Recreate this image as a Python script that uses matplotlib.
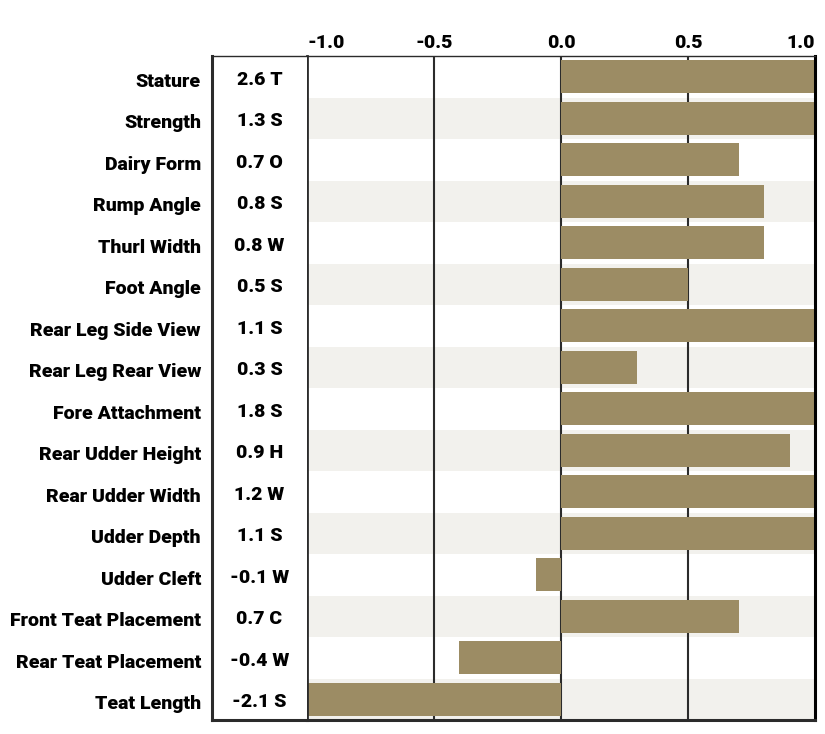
import matplotlib.pyplot as plt
import matplotlib.transforms as mtransforms

traits = ['Stature', 'Strength', 'Dairy Form', 'Rump Angle', 'Thurl Width',
          'Foot Angle', 'Rear Leg Side View', 'Rear Leg Rear View',
          'Fore Attachment', 'Rear Udder Height', 'Rear Udder Width',
          'Udder Depth', 'Udder Cleft', 'Front Teat Placement',
          'Rear Teat Placement', 'Teat Length']
values = [2.6, 1.3, 0.7, 0.8, 0.8, 0.5, 1.1, 0.3, 1.8, 0.9, 1.2, 1.1,
          -0.1, 0.7, -0.4, -2.1]
codes = ['T', 'S', 'O', 'S', 'W', 'S', 'S', 'S', 'S', 'H', 'W', 'S',
         'W', 'C', 'W', 'S']
xticks = [-1.0, -0.5, 0.0, 0.5, 1.0]

bar_color = '#9c8c64'
stripe_color = '#f2f1ed'
line_color = '#2b2b2b'

plt.rcParams['font.family'] = ['Roboto', 'DejaVu Sans']

fs = 14
fw = 'heavy'

fig = plt.figure(figsize=(8.25, 7.34), dpi=100)
W, H = 825, 734
top, bottom = 56, 720
ax = fig.add_axes([307 / W, (H - bottom) / H, 508 / W, (bottom - top) / H])
axv = fig.add_axes([212 / W, (H - bottom) / H, 95 / W, (bottom - top) / H])

n = len(traits)
ypos = list(range(n))

# alternating stripes
for i in ypos:
    if i % 2 == 1:
        ax.axhspan(i - 0.5, i + 0.5, color=stripe_color, zorder=0, lw=0)

for x in [-0.5, 0.0, 0.5]:
    ax.axvline(x, color=line_color, lw=1.5, zorder=1)

ax.barh(ypos, values, height=0.8, color=bar_color, zorder=2)
ax.set_xlim(-1, 1)
ax.set_ylim(n - 0.5, -0.5)
ax.set_yticks([])
ax.xaxis.tick_top()
ax.set_xticks(xticks)
ax.set_xticklabels([f'{t:.1f}' for t in xticks], fontsize=fs, fontweight=fw)
ax.tick_params(axis='x', length=0, pad=3)
labels = ax.get_xticklabels()
labels[0].set_ha('left')
labels[-1].set_ha('right')

ax.spines['top'].set_linewidth(1)
ax.spines['top'].set_color(line_color)
ax.spines['left'].set_linewidth(2)
ax.spines['left'].set_color(line_color)
ax.spines['right'].set_linewidth(2.2)
ax.spines['right'].set_color('black')
ax.spines['bottom'].set_linewidth(2.2)
ax.spines['bottom'].set_color(line_color)

# value column
down = mtransforms.ScaledTranslation(0, -3 / 100, fig.dpi_scale_trans)
axv.set_xlim(0, 1)
axv.set_ylim(n - 0.5, -0.5)
axv.set_xticks([])
axv.set_yticks(ypos)
axv.set_yticklabels(traits, fontsize=fs, fontweight=fw)
axv.tick_params(axis='y', length=0, pad=8)
for lab in axv.get_yticklabels():
    lab.set_transform(lab.get_transform() + down)
for i in ypos:
    axv.text(0.5, i, f'{values[i]:.1f} {codes[i]}', ha='center', va='center',
             fontsize=fs, fontweight=fw,
             transform=axv.transData + down)
axv.spines['right'].set_visible(False)
axv.spines['top'].set_linewidth(1)
axv.spines['top'].set_color(line_color)
for s in ['left', 'bottom']:
    axv.spines[s].set_linewidth(2.2)
    axv.spines[s].set_color(line_color)

fig.savefig('out.png', dpi=100)
